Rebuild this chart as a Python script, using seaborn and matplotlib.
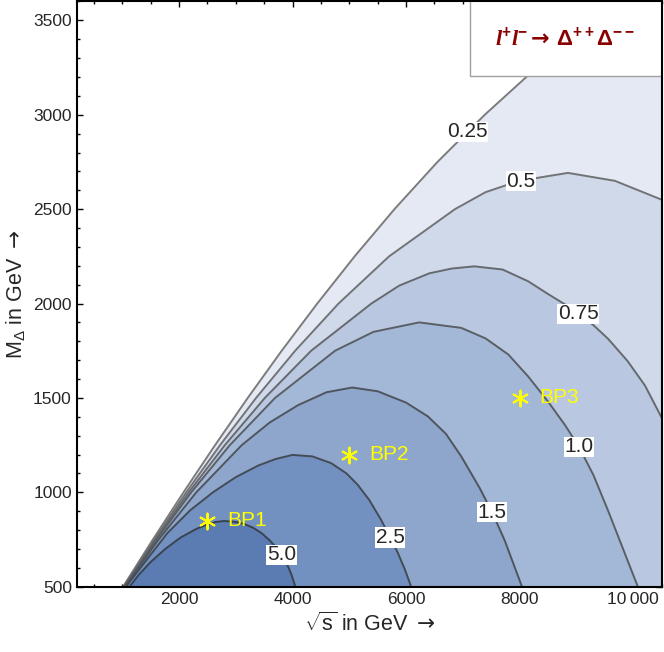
import numpy as np
import matplotlib
matplotlib.use("Agg")
import matplotlib.pyplot as plt
import seaborn as sb
from matplotlib.ticker import MultipleLocator, FixedLocator

# contour levels of the cross section and the curves
levels = ["0.25", "0.5", "0.75", "1.0", "1.5", "2.5", "5.0"]

c025_x = [1017, 1542, 2081, 2637, 3212, 3810, 4436, 5094, 5795, 6552, 7385, 8300, 9499, 10500]
c025_y = [500, 750, 1000, 1250, 1500, 1750, 2000, 2250, 2500, 2750, 3000, 3250, 3500, 3658]

c05_x = [1026, 1566, 2130, 2725, 3359, 4047, 4811, 5701, 6861, 7400, 7990, 8850, 9676, 10500]
c05_y = [500, 750, 1000, 1250, 1500, 1750, 2000, 2250, 2500, 2590, 2650, 2692, 2650, 2550]

c075_x = [1034, 1587, 2174, 2809, 3513, 4329, 5389, 5880, 6410, 6800, 7200, 7700, 8148, 8501,
          8800, 9031, 9300, 9560, 9900, 10207, 10500]
c075_y = [500, 750, 1000, 1250, 1500, 1750, 2000, 2095, 2160, 2185, 2197, 2180, 2118, 2050,
          1995, 1945, 1885, 1812, 1695, 1565, 1395]

c10_x = [1041, 1606, 2218, 2897, 3693, 4750, 5426, 6231, 6971, 7400, 7800, 8148, 8501, 8800,
         9045, 9300, 9560, 9820, 10080]
c10_y = [500, 750, 1000, 1250, 1500, 1750, 1850, 1900, 1871, 1815, 1730, 1614, 1480, 1355,
         1240, 1090, 900, 700, 500]

c15_x = [1053, 1643, 2306, 3107, 3600, 4100, 4600, 5050, 5500, 6000, 6383, 6700, 6971, 7300,
         7515, 7736, 8040]
c15_y = [500, 750, 1000, 1250, 1370, 1462, 1530, 1555, 1535, 1475, 1402, 1310, 1190, 1020,
         894, 745, 500]

c25_x = [1070, 1400, 1800, 2200, 2600, 3000, 3400, 3700, 4000, 4350, 4676, 4950, 5147, 5350,
         5559, 5721, 5853, 5980, 6088]
c25_y = [500, 630, 785, 905, 1000, 1080, 1142, 1176, 1198, 1190, 1155, 1100, 1040, 960,
         854, 760, 680, 590, 500]

c50_x = [1131, 1300, 1500, 1760, 2028, 2300, 2500, 2650, 2800, 3000, 3150, 3300, 3450, 3600,
         3700, 3800, 3900, 3980, 4050]
c50_y = [500, 565, 630, 700, 760, 805, 830, 843, 848, 843, 832, 813, 785, 745,
         712, 672, 622, 565, 500]

# where the contour labels sit
label_x = [7078, 8025, 9031, 9045, 7515, 5721, 3809]
label_y = [2909, 2648, 1945, 1240, 894, 760, 668]

# benchmark points
bp_names = ["BP1", "BP2", "BP3"]
bp_sqrts = [2500, 5000, 8000]
bp_mass = [850, 1200, 1500]

curves = [(c025_x, c025_y), (c05_x, c05_y), (c075_x, c075_y), (c10_x, c10_y),
          (c15_x, c15_y), (c25_x, c25_y), (c50_x, c50_y)]
fills = ["#e4e9f3", "#cfd9ea", "#b9c8e0", "#a3b7d6", "#8ea6cb", "#7391c0", "#5a7cb3"]
edges = ["#7c7c7c", "#727376", "#66696e", "#5a5f66", "#4e555e", "#434b56", "#3a4350"]

sb.set_style("ticks")
plt.rcParams['font.family'] = ['Liberation Sans', 'DejaVu Sans']
plt.rcParams['mathtext.fontset'] = 'custom'
plt.rcParams['mathtext.rm'] = 'Liberation Sans'
plt.rcParams['mathtext.it'] = 'Liberation Sans:italic'
plt.rcParams['mathtext.bf'] = 'Liberation Sans:bold'
plt.rcParams['mathtext.sf'] = 'DejaVu Sans'
plt.rcParams['mathtext.tt'] = 'DejaVu Sans:bold'
try:
    plt.rcParams['mathtext.bfit'] = 'Liberation Serif:italic:bold'
    lep = r'\mathbfit{l}'
except KeyError:
    lep = r'l'

fig = plt.figure(figsize=(6.64, 6.52), dpi=100)
ax = fig.add_axes([0.1155, 0.1002, 0.8810, 0.8975])

for (cx, cy), fc in zip(curves, fills):
    ax.fill_between(cx, 0, cy, color=fc, lw=0, zorder=1)
for (cx, cy), ec in zip(curves, edges):
    sb.lineplot(x=cx, y=cy, sort=False, estimator=None, color=ec, lw=1.4, ax=ax, zorder=2)

for lab, lx, ly in zip(levels, label_x, label_y):
    ax.text(lx, ly, lab, fontsize=15, ha="center", va="center", zorder=4,
            bbox=dict(facecolor="white", edgecolor="none", pad=0.5))

sb.scatterplot(x=bp_sqrts, y=bp_mass, marker=(6, 2, 0), s=130, color="#ffff00",
               edgecolor="#ffff00", linewidth=1.4, ax=ax, zorder=5)
for name, bx, by in zip(bp_names, bp_sqrts, bp_mass):
    ax.annotate(name, (bx, by), xytext=(14, 0), textcoords="offset points",
                color="#ffff00", fontsize=15, va="center", zorder=5)

# process box in the top right corner
ax.add_patch(plt.Rectangle((7118, 3206), 10500 - 7118, 500, facecolor="white",
                           edgecolor="#a0a0a0", lw=1, zorder=6))
proc = (r'$' + lep + r'^{\mathbf{+}}' + lep + r'^{\mathbf{-}}\mathtt{\rightarrow}\,'
        r'\mathbf{\Delta}^{\mathbf{++}}\mathbf{\Delta}^{\mathbf{--}}$')
ax.text(8800, 3400, proc, color="#8b0000", fontsize=16, ha="center", va="center", zorder=7)

ax.set_xlim(200, 10500)
ax.set_ylim(500, 3600)
ax.xaxis.set_major_locator(FixedLocator([2000, 4000, 6000, 8000, 10000]))
ax.set_xticklabels(["2000", "4000", "6000", "8000", "10\u2009000"])
ax.xaxis.set_minor_locator(MultipleLocator(500))
ax.yaxis.set_major_locator(MultipleLocator(500))
ax.yaxis.set_minor_locator(MultipleLocator(100))
ax.tick_params(which="both", direction="in", top=True, right=True, labelsize=12.5,
               color="black", width=1)
ax.tick_params(which="major", length=4)
ax.tick_params(which="minor", length=2.5)
for sp in ax.spines.values():
    sp.set_linewidth(1.5)
    sp.set_color("black")
    sp.set_zorder(8)

ax.set_xlabel(r'$\sqrt{\mathrm{s}}$ in GeV $\mathsf{\rightarrow}$', fontsize=15.5, labelpad=4)
ax.set_ylabel(r'M$_{\Delta}$ in GeV $\mathsf{\rightarrow}$', fontsize=15.5, labelpad=4)

fig.savefig("out.png", dpi=100)
